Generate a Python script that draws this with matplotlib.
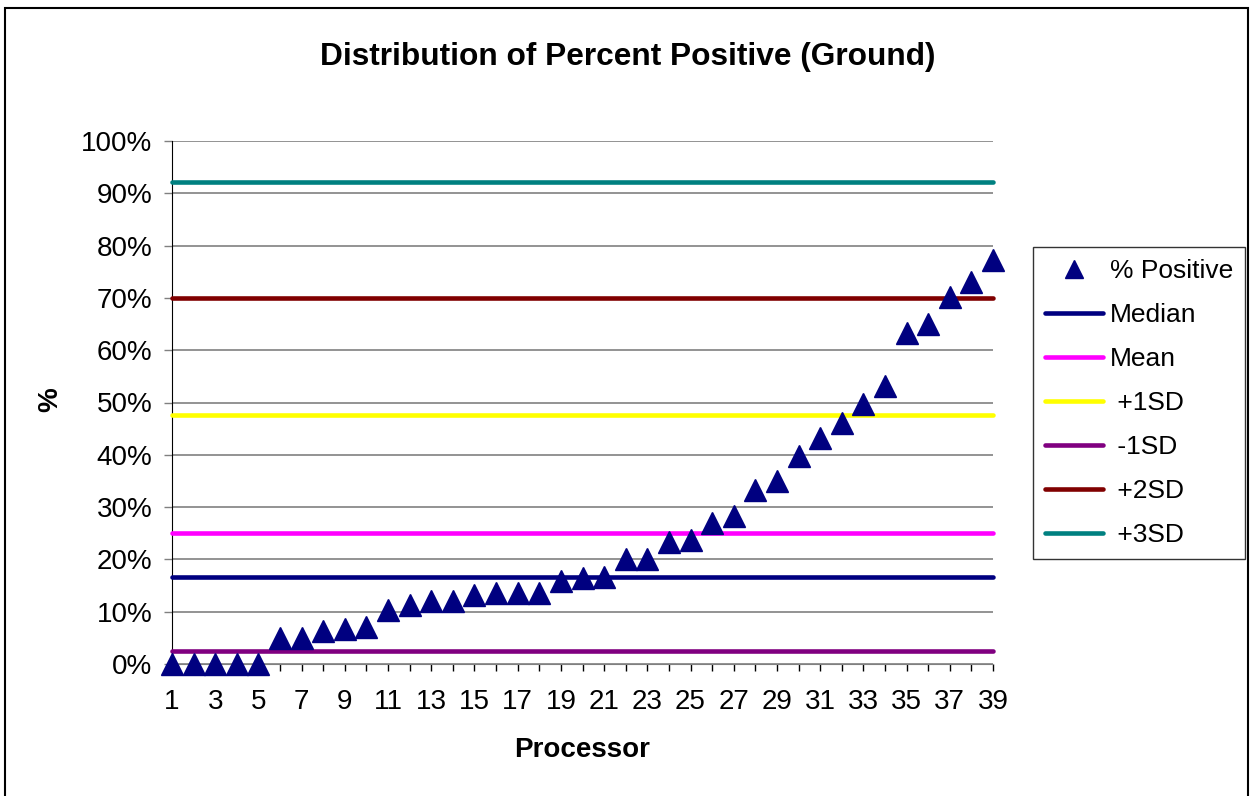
import matplotlib.pyplot as plt
from matplotlib.patches import Rectangle

plt.rcParams['font.family'] = ['Liberation Sans', 'DejaVu Sans']

processor = list(range(1, 40))
pct_positive = [0, 0, 0, 0, 0, 4.9, 4.9, 6.3, 6.7, 7.0,
                10.4, 11.2, 12.0, 12.0, 13.1, 13.6, 13.6, 13.6, 15.8, 16.5,
                16.6, 20.0, 20.0, 23.4, 23.7, 26.9, 28.3, 33.3, 34.9, 39.8,
                43.2, 46.0, 49.8, 53.2, 63.2, 65.1, 70.1, 73.1, 77.3]

stat_names = ['Median', 'Mean', ' +1SD', ' -1SD', ' +2SD', ' +3SD']
stat_values = [16.6, 25.0, 47.6, 2.5, 70.0, 92.2]
stat_colors = ['#000080', '#FF00FF', '#FFFF00', '#800080', '#800000', '#008080']

yticks = list(range(0, 101, 10))
ytick_labels = ['%d%%' % v for v in yticks]
xtick_labels = [str(p) if p % 2 == 1 else '' for p in processor]

W, H = 1251, 796
fig = plt.figure(figsize=(W / 100, H / 100), dpi=100)
ax = fig.add_axes([172 / W, 1 - 664 / H, (993 - 172) / W, (664 - 141) / H])

ax.plot(processor, pct_positive, linestyle='none', marker='^', markersize=16,
        color='#000080', label='% Positive', clip_on=False, zorder=5)
for name, val, col in zip(stat_names, stat_values, stat_colors):
    ax.plot([processor[0], processor[-1]], [val, val], color=col, lw=3.3,
            solid_capstyle='round', label=name, clip_on=False, zorder=3)

ax.set_xlim(1, 39)
ax.set_ylim(0, 100)
ax.set_yticks(yticks)
ax.set_yticklabels(ytick_labels, fontsize=20)
ax.set_xticks(processor)
ax.set_xticklabels(xtick_labels, fontsize=20)
ax.grid(axis='y', color='#808080', lw=1.2)
ax.set_axisbelow(True)

for s in ['top', 'right']:
    ax.spines[s].set_visible(False)
ax.spines['left'].set_color('#000000')
ax.spines['bottom'].set_color('#808080')
ax.tick_params(axis='y', direction='out', length=6, width=1, color='#808080', pad=8)
ax.tick_params(axis='x', direction='out', length=5, width=1, color='#000000', pad=13)

ax.set_xlabel('Processor', fontsize=20, fontweight='bold', labelpad=16)
fig.text(50 / W, 1 - 400 / H, '%', fontsize=20, fontweight='bold', rotation=90,
         ha='center', va='center')
fig.text(628 / W, 1 - 57 / H, 'Distribution of Percent Positive (Ground)',
         fontsize=22.8, fontweight='bold', ha='center', va='center')

fig.legend(loc='upper left', bbox_to_anchor=(1033 / W, 1 - 247 / H), borderaxespad=0,
           fontsize=19, frameon=True, fancybox=False, edgecolor='#000000',
           handlelength=2.2, handletextpad=0.25, labelspacing=0.76, borderpad=0.45,
           numpoints=1, markerscale=0.8)

fig.patches.append(Rectangle((5 / W, -0.01), (1248 - 5) / W, 1 - 8 / H + 0.01,
                             transform=fig.transFigure, fill=False,
                             edgecolor='#000000', lw=1.5))

plt.savefig('out.png', dpi=100)
